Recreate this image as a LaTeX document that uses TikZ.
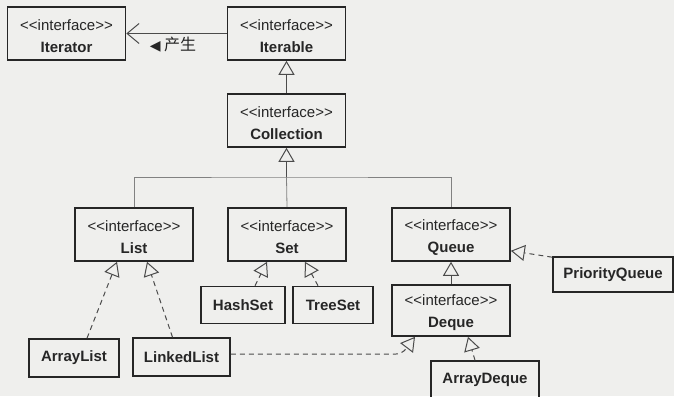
\documentclass[tikz,border=0pt]{standalone}
\usepackage{fontspec}
\newfontfamily\umlfont{Liberation Sans}
\newfontfamily\cjk{Noto Sans CJK SC}
\newfontfamily\symfont{DejaVu Sans}
\usetikzlibrary{arrows.meta,calc}
\definecolor{paper}{RGB}{239,239,237}
\definecolor{ink}{RGB}{38,38,38}
\definecolor{wire}{RGB}{75,75,75}
\newcommand\stereo[1]{\rule{0pt}{16pt}{\fontsize{15}{22}\selectfont <<interface>>}\\{\bfseries #1}}
\tikzset{
  box/.style={draw=ink, line width=1.6pt, text=ink, inner sep=0pt, align=center,
    font=\umlfont\fontsize{15}{22}\selectfont},
  iface/.style={box, minimum width=118pt, minimum height=53pt},
  cls/.style={box, font=\umlfont\bfseries\fontsize{15}{18}\selectfont, minimum height=37pt},
  gen/.style={draw=wire, line width=1pt, -{Triangle[open, length=14pt, width=16pt]}},
  real/.style={gen, dash pattern=on 5pt off 4pt},
  uses/.style={draw=wire, line width=1pt, -{Straight Barb[length=12pt, width=20pt]}},
  bus/.style={draw=wire!70, line width=0.8pt}
}
\begin{document}
\begin{tikzpicture}[x=1pt, y=-1pt]
  \fill[paper] (0,0) rectangle (674,396);
  \clip (0,0) rectangle (674,396);

  % interfaces
  \node[iface] (iterator) at (66.5,33.5) {\stereo{Iterator}};
  \node[iface] (iterable) at (286.5,33.5) {\stereo{Iterable}};
  \node[iface] (collection) at (286.5,120.5) {\stereo{Collection}};
  \node[iface] (list) at (134,234.5) {\stereo{List}};
  \node[iface] (set) at (287,234.5) {\stereo{Set}};
  \node[iface] (queue) at (451,234.5) {\stereo{Queue}};
  \node[iface, minimum height=51pt] (deque) at (451,310.5) {\stereo{Deque}};

  % classes
  \node[cls, minimum width=84pt] (hashset) at (243,305) {HashSet};
  \node[cls, minimum width=80pt] (treeset) at (333,305) {TreeSet};
  \node[cls, minimum width=90pt, minimum height=38pt] (arraylist) at (74,358) {ArrayList};
  \node[cls, minimum width=97pt, minimum height=38pt] (linkedlist) at (181.5,357) {LinkedList};
  \node[cls, minimum width=120pt, minimum height=35pt] (pqueue) at (613,274.5) {PriorityQueue};
  \node[cls, minimum width=108pt, minimum height=38pt] (arraydeque) at (485,380) {ArrayDeque};

  % Iterable -> Iterator
  \draw[uses] (iterable.west) -- (iterator.east);
  \node[text=ink] (made) at (173,45) {{\symfont\fontsize{14}{14}\selectfont ◀}\ {\cjk\fontsize{16}{16}\selectfont 产生}};

  % inheritance
  \draw[gen] (collection) -- (iterable);
  \coordinate (fork) at (collection.south |- 0,177);
  \draw[gen] (fork) -- (collection);
  \draw[bus] (list.north) |- (fork) -| (queue.north);
  \draw[bus] (set.north) -- (fork);
  \draw[gen] (deque) -- (queue);

  % implementations
  \draw[real] ($(arraylist.north)+(13,0)$) -- ($(list.south)+(-17,0)$);
  \draw[real] ($(linkedlist.north)+(-9,0)$) -- ($(list.south)+(13,0)$);
  \draw[real] ($(hashset.north)+(12,0)$) -- ($(set.south)+(-20,0)$);
  \draw[real] ($(treeset.north)+(-15,0)$) -- ($(set.south)+(18,0)$);
  \draw[real] ($(pqueue.north west)+(0,1)$) -- ($(queue.south east)+(0,-11)$);
  \draw[real, rounded corners=6pt] ($(linkedlist.east)+(0,-3)$) -- (402,354) -- ($(deque.south)+(-36,0)$);
  \draw[real] ($(arraydeque.north)+(-10,0)$) -- ($(deque.south)+(17,0)$);
\end{tikzpicture}
\end{document}
